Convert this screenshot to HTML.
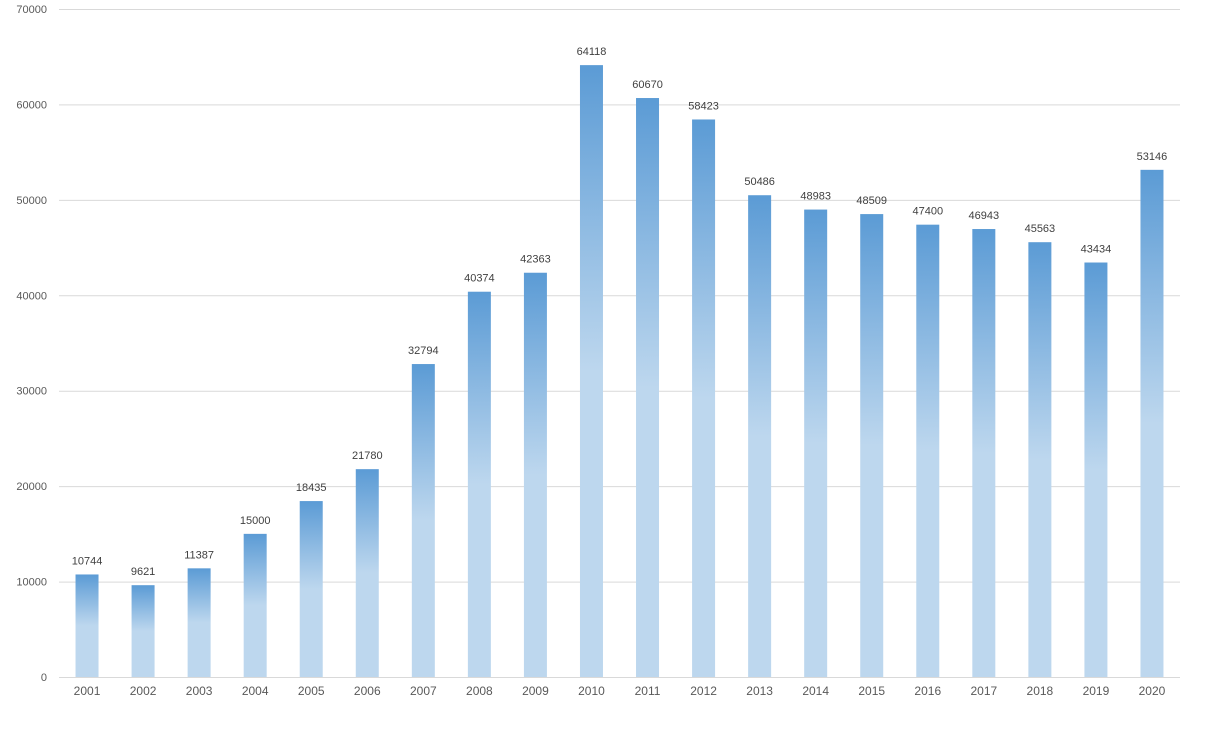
<!DOCTYPE html>
<html><head><meta charset="utf-8"><style>
body{margin:0;background:#fff;font-family:"Liberation Sans",sans-serif;}
svg text{font-family:"Liberation Sans",sans-serif;}
</style></head><body>
<svg id="chart" width="1213" height="737" xmlns="http://www.w3.org/2000/svg">
<defs><linearGradient id="bg" x1="0" y1="0" x2="0" y2="1">
<stop offset="0" stop-color="#5b9bd5"/><stop offset="0.5" stop-color="#bdd7ee"/><stop offset="1" stop-color="#bdd7ee"/>
</linearGradient></defs>
<g id="grid"></g><g id="bars"></g><g id="labels"></g>
</svg>
<script>
const categories=["2001","2002","2003","2004","2005","2006","2007","2008","2009","2010","2011","2012","2013","2014","2015","2016","2017","2018","2019","2020"];
const values=[10744,9621,11387,15000,18435,21780,32794,40374,42363,64118,60670,58423,50486,48983,48509,47400,46943,45563,43434,53146];
const yTicks=[0,10000,20000,30000,40000,50000,60000,70000];
const NS="http://www.w3.org/2000/svg";
const plotLeft=59,plotRight=1180,plotTop=9,plotBottom=677,ymax=70000;
const yScale=v=>plotBottom-(v/ymax)*(plotBottom-plotTop);
const band=(plotRight-plotLeft)/categories.length;
const xScale=i=>plotLeft+band*(i+0.5);
function mk(tag,attrs,parent,txt){const e=document.createElementNS(NS,tag);for(const k in attrs)e.setAttribute(k,attrs[k]);if(txt!==undefined)e.textContent=txt;parent.appendChild(e);return e;}
const gridG=document.getElementById('grid'),barsG=document.getElementById('bars'),labelsG=document.getElementById('labels');
yTicks.forEach(t=>{
 const l=mk('line',{x1:plotLeft,x2:plotRight,y1:yScale(t)+0.5,y2:yScale(t)+0.5,stroke:'#d9d9d9','stroke-width':1},gridG);
 
 
 const tx=mk('text',{x:47,y:yScale(t)+4,'text-anchor':'end','font-size':11,fill:'#595959'},gridG,String(t));
 
 
});
const bw=23;
values.forEach((v,i)=>{
 const r=mk('rect',{x:xScale(i)-bw/2,y:yScale(v),width:bw,height:plotBottom-yScale(v),fill:'url(#bg)'},barsG);
 
 
 const vl=mk('text',{x:xScale(i),y:yScale(v)-10,'text-anchor':'middle','font-size':11,fill:'#404040'},labelsG,String(v));
 
 
 const cl=mk('text',{x:xScale(i),y:695,'text-anchor':'middle','font-size':12,fill:'#595959'},labelsG,categories[i]);
 
 
});
</script>
</body></html>
